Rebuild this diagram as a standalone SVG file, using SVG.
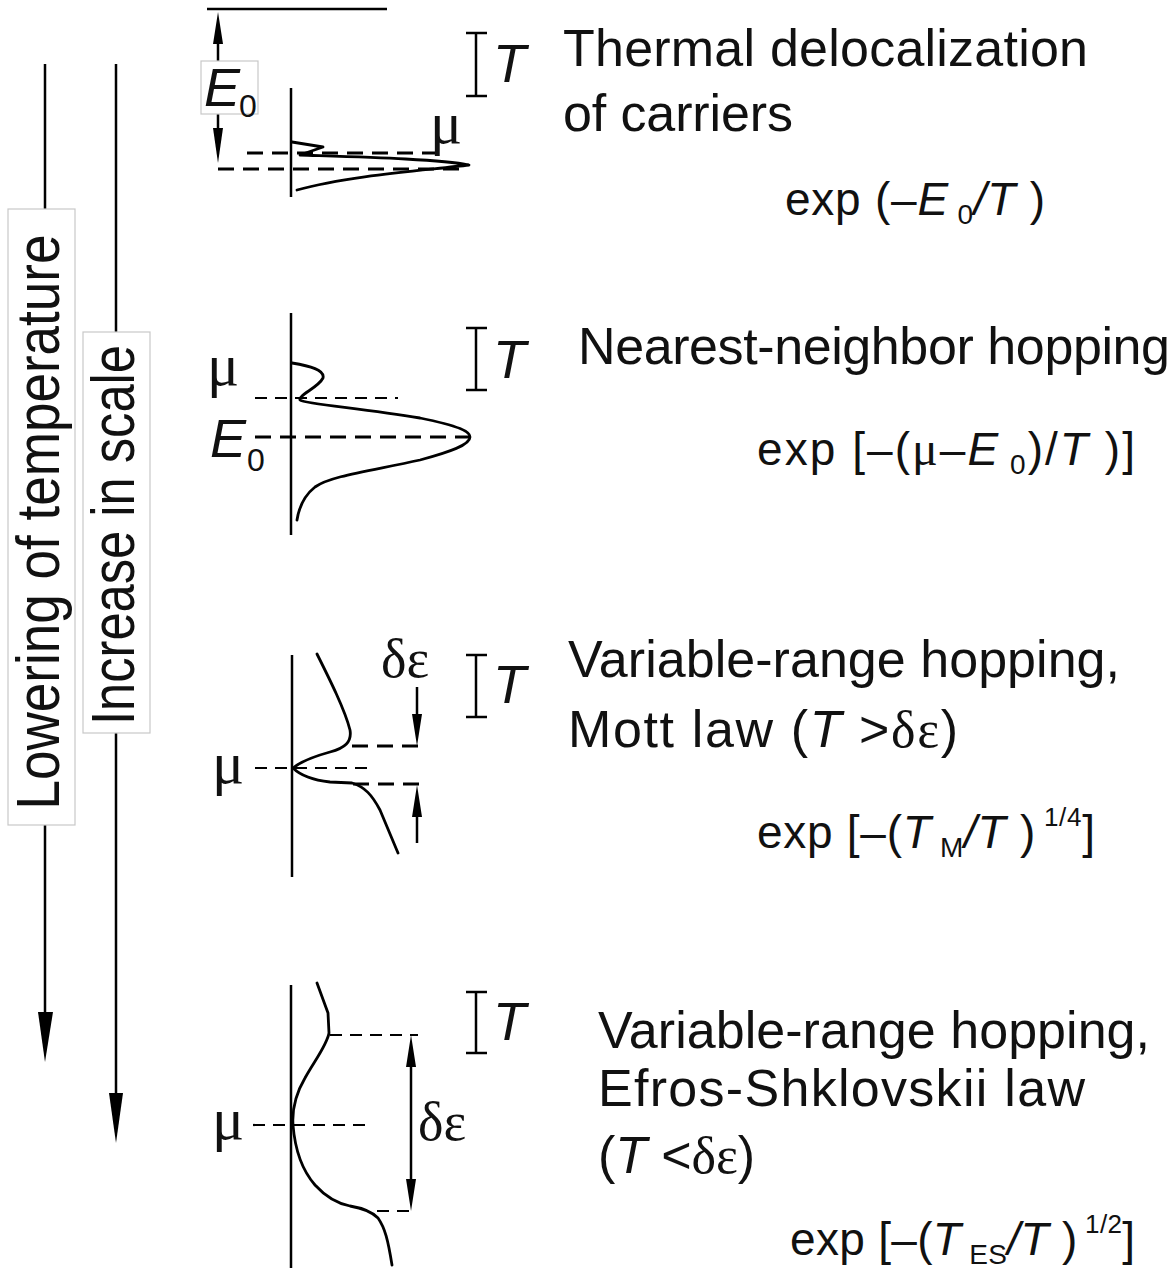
<svg xmlns="http://www.w3.org/2000/svg" width="1176" height="1274" viewBox="0 0 1176 1274">
<style>
.ln{stroke:#000;stroke-width:2.5;fill:none}
.cv{stroke:#000;stroke-width:2.8;fill:none;stroke-linejoin:round;stroke-linecap:round}
.dt{stroke:#000;stroke-width:2.2;fill:none;stroke-dasharray:12 8}
.dk{stroke:#000;stroke-width:3;fill:none;stroke-dasharray:16 9}
.ah{fill:#000}
.box{fill:#fff;stroke:#c8c8c8;stroke-width:1.2}
.t{font-family:"Liberation Sans",Arial,sans-serif;font-size:52px;fill:#111}
.f{font-family:"Liberation Sans",Arial,sans-serif;font-size:46px;fill:#111}
.lt{font-family:"Liberation Sans",Arial,sans-serif;font-size:62px;fill:#111}
.i{font-style:italic}
.g{font-family:"Liberation Serif","Times New Roman",serif;font-size:60px;fill:#111}
.de{font-family:"Liberation Serif","Times New Roman",serif;font-size:54px;fill:#111}
.sb{font-size:28px}
.sub{font-family:"Liberation Sans",Arial,sans-serif;font-size:32px;fill:#111}
.tl{font-family:"Liberation Sans",Arial,sans-serif;font-size:54px;font-style:italic;fill:#111}
</style>

<g id="connectors">
  <line class="ln" x1="45" y1="64" x2="45" y2="1015"/>
  <polygon class="ah" points="38,1012 53,1012 45,1062"/>
  <line class="ln" x1="116" y1="64" x2="116" y2="1096"/>
  <polygon class="ah" points="109,1093 123,1093 116,1143"/>
</g>

<g id="label-lowering">
  <rect class="box" x="8" y="209" width="67" height="616"/>
  <text class="lt" transform="translate(59,522) rotate(-90)" text-anchor="middle" textLength="575" lengthAdjust="spacingAndGlyphs">Lowering of temperature</text>
</g>
<g id="label-scale">
  <rect class="box" x="83" y="332" width="67" height="401"/>
  <text class="lt" transform="translate(134,535) rotate(-90)" text-anchor="middle" textLength="380" lengthAdjust="spacingAndGlyphs">Increase in scale</text>
</g>

<g id="panel-thermal">
  <line class="ln" x1="207" y1="9" x2="387" y2="9" stroke-width="2"/>
  <line class="ln" x1="218" y1="40" x2="218" y2="132"/>
  <polygon class="ah" points="218,12 213,44 223,44"/>
  <polygon class="ah" points="218,163 213,128 223,128"/>
  <rect class="box" x="201" y="61" width="57" height="53"/>
  <text class="tl" x="204" y="106">E</text>
  <text class="sub" x="239" y="117">0</text>
  <line class="ln" x1="291" y1="88" x2="291" y2="197"/>
  <line class="dk" x1="247" y1="153" x2="440" y2="153" stroke-width="2.6" stroke-dasharray="14 9"/>
  <line class="dk" x1="218" y1="169" x2="467" y2="169"/>
  <path class="cv" d="M 292 142 L 323 147 L 300 155 C 360 157 440 159 469 165 C 430 170 350 175 297 190"/>
  <text class="g" x="430" y="143">μ</text>
  <line class="ln" x1="476" y1="33" x2="476" y2="96"/>
  <line class="ln" x1="466" y1="33" x2="487" y2="33"/>
  <line class="ln" x1="466" y1="96" x2="487" y2="96"/>
  <text class="tl" x="493" y="82">T</text>
  <text class="t" x="563" y="66" textLength="525" lengthAdjust="spacing">Thermal delocalization</text>
  <text class="t" x="563" y="131" textLength="230" lengthAdjust="spacing">of carriers</text>
  <text class="f" x="785" y="215" textLength="260" lengthAdjust="spacing">exp (–<tspan class="i">E</tspan><tspan class="sb" y="224"> 0</tspan><tspan class="i" y="215">/T</tspan> )</text>
</g>

<g id="panel-nearest">
  <line class="ln" x1="291" y1="313" x2="291" y2="535"/>
  <text class="g" x="207" y="385">μ</text>
  <line class="dt" x1="255" y1="398" x2="398" y2="398"/>
  <line class="dk" x1="255" y1="437" x2="477" y2="437" stroke-dasharray="15 8"/>
  <text class="tl" x="210" y="457">E</text>
  <text class="sub" x="247" y="471">0</text>
  <path class="cv" d="M 292 363 C 310 366 325 370 323 378 C 318 388 298 395 300 400 C 305 404 360 408 420 418 C 460 426 470 432 470 437 C 470 445 450 452 420 460 C 370 471 330 476 315 487 C 305 495 299 507 297 520"/>
  <line class="ln" x1="476" y1="328" x2="476" y2="390"/>
  <line class="ln" x1="466" y1="328" x2="487" y2="328"/>
  <line class="ln" x1="466" y1="390" x2="487" y2="390"/>
  <text class="tl" x="493" y="378">T</text>
  <text class="t" x="578" y="364" textLength="592" lengthAdjust="spacing">Nearest-neighbor hopping</text>
  <text class="f" x="757" y="465" textLength="378" lengthAdjust="spacing">exp [–(<tspan font-family="Liberation Serif, serif" font-size="48">μ</tspan>–<tspan class="i">E</tspan><tspan class="sb" y="474"> 0</tspan><tspan y="465">)/</tspan><tspan class="i">T</tspan> )]</text>
</g>

<g id="panel-mott">
  <line class="ln" x1="292" y1="655" x2="292" y2="877"/>
  <text class="g" x="212" y="783">μ</text>
  <line class="dt" x1="255" y1="768" x2="372" y2="768"/>
  <line class="dk" x1="352" y1="746" x2="418" y2="746" stroke-width="2.6" stroke-dasharray="14 8"/>
  <line class="dk" x1="353" y1="784" x2="422" y2="784" stroke-width="2.6" stroke-dasharray="14 8"/>
  <line class="ln" x1="417" y1="687" x2="417" y2="716"/>
  <polygon class="ah" points="417,746 412,714 422,714"/>
  <line class="ln" x1="417" y1="843" x2="417" y2="815"/>
  <polygon class="ah" points="417,785 412,817 422,817"/>
  <text class="de" x="381" y="677">δε</text>
  <path class="cv" d="M 317 654 C 330 680 345 710 350 730 C 352 742 345 748 330 752 C 312 757 300 762 293 768 C 300 775 312 780 330 782 L 352 783 C 365 787 372 795 380 810 L 398 853"/>
  <line class="ln" x1="476" y1="655" x2="476" y2="717"/>
  <line class="ln" x1="466" y1="655" x2="487" y2="655"/>
  <line class="ln" x1="466" y1="717" x2="487" y2="717"/>
  <text class="tl" x="493" y="703">T</text>
  <text class="t" x="568" y="677" textLength="552" lengthAdjust="spacing">Variable-range hopping,</text>
  <text class="t" x="568" y="747" textLength="390" lengthAdjust="spacing">Mott law   (<tspan class="i">T</tspan> &gt;<tspan font-family="Liberation Serif, serif">δε</tspan>)</text>
  <text class="f" x="757" y="848" textLength="338" lengthAdjust="spacing">exp [–(<tspan class="i">T</tspan><tspan class="sb" y="857"> M</tspan><tspan class="i" y="848">/T</tspan> )<tspan font-size="26" y="826"> 1/4</tspan><tspan y="848">]</tspan></text>
</g>

<g id="panel-es">
  <line class="ln" x1="291" y1="985" x2="291" y2="1268"/>
  <text class="g" x="212" y="1139">μ</text>
  <line class="dt" x1="253" y1="1125" x2="372" y2="1125"/>
  <line class="dt" x1="330" y1="1035" x2="418" y2="1035" stroke-width="2.4" stroke-dasharray="14 8"/>
  <line class="dt" x1="377" y1="1211" x2="417" y2="1211" stroke-width="2.4" stroke-dasharray="14 8"/>
  <line class="ln" x1="411" y1="1060" x2="411" y2="1186"/>
  <polygon class="ah" points="411,1035 406,1067 416,1067"/>
  <polygon class="ah" points="411,1211 406,1179 416,1179"/>
  <text class="de" x="418" y="1140">δε</text>
  <path class="cv" d="M 317 983 L 328 1013 L 329 1033 C 327 1045 315 1060 305 1078 C 295 1095 292 1110 293 1125 C 295 1150 302 1170 315 1185 C 325 1196 335 1203 350 1206 C 362 1208 372 1212 378 1218 C 385 1228 388 1240 392 1265"/>
  <line class="ln" x1="476" y1="992" x2="476" y2="1053"/>
  <line class="ln" x1="466" y1="992" x2="487" y2="992"/>
  <line class="ln" x1="466" y1="1053" x2="487" y2="1053"/>
  <text class="tl" x="493" y="1040">T</text>
  <text class="t" x="598" y="1048" textLength="552" lengthAdjust="spacing">Variable-range hopping,</text>
  <text class="t" x="598" y="1106" textLength="487" lengthAdjust="spacing">Efros-Shklovskii  law</text>
  <text class="t" x="598" y="1173" textLength="157" lengthAdjust="spacing">(<tspan class="i">T</tspan> &lt;<tspan font-family="Liberation Serif, serif">δε</tspan>)</text>
  <text class="f" x="790" y="1255" textLength="345" lengthAdjust="spacing">exp [–(<tspan class="i">T</tspan><tspan class="sb" y="1264"> ES</tspan><tspan class="i" y="1255">/T</tspan> )<tspan font-size="26" y="1233"> 1/2</tspan><tspan y="1255">]</tspan></text>
</g>
</svg>
